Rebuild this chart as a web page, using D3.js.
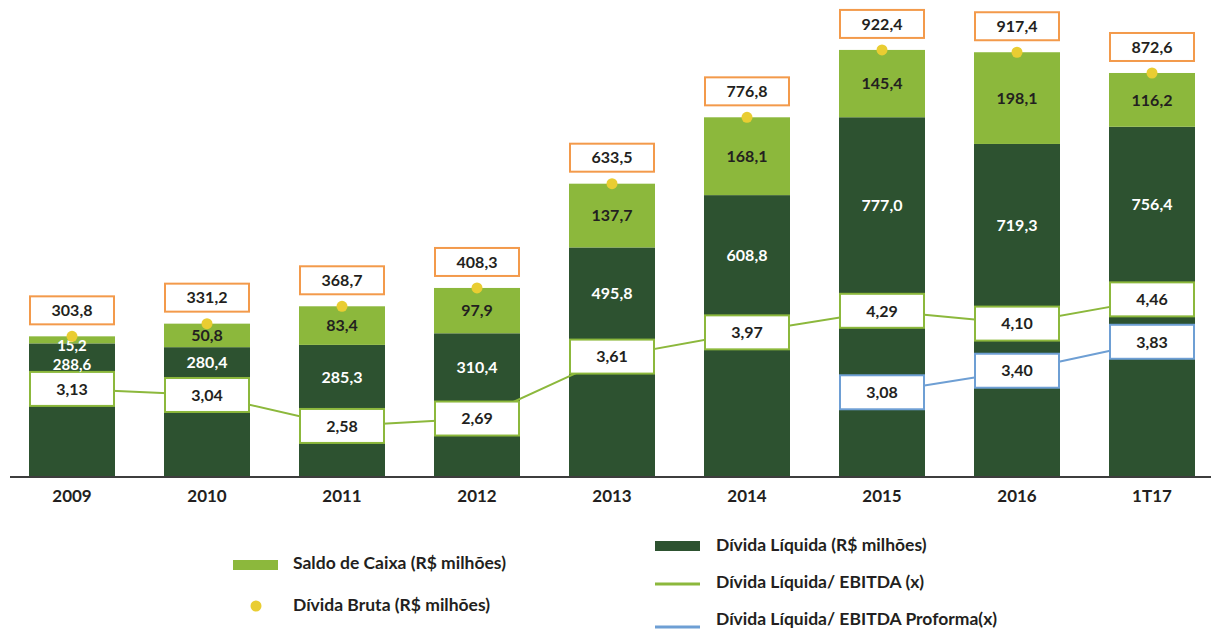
<!DOCTYPE html>
<html lang="pt">
	<head>
		<meta charset="utf-8">
		<title>Endividamento</title>
		<script src="https://cdn.jsdelivr.net/npm/d3@7"></script>
		<style type="text/css">
			body { margin: 0; background: #fff; }
			text { font-family: Lato, "Open Sans", sans-serif; font-weight: 700; }
		</style>
	</head>
	<body>
		<script type="text/javascript">

			//Data
			let periods = ["2009", "2010", "2011", "2012", "2013", "2014", "2015", "2016", "1T17"];
			let dividaLiquida = [288.6, 280.4, 285.3, 310.4, 495.8, 608.8, 777.0, 719.3, 756.4];
			let saldoCaixa = [15.2, 50.8, 83.4, 97.9, 137.7, 168.1, 145.4, 198.1, 116.2];
			let dividaBruta = [303.8, 331.2, 368.7, 408.3, 633.5, 776.8, 922.4, 917.4, 872.6];
			let ratioEbitda = [3.13, 3.04, 2.58, 2.69, 3.61, 3.97, 4.29, 4.10, 4.46];
			let proformaPeriods = ["2015", "2016", "1T17"];
			let ratioProforma = [3.08, 3.40, 3.83];

			let fmt = v => d3.format(".1f")(v).replace(".", ",");
			let fmt2 = v => d3.format(".2f")(v).replace(".", ",");

			//Size
			let w = 1211;
			let h = 630;

			let darkGreen = "#2d5230";
			let lightGreen = "#8cb83c";
			let yellow = "#e9cd32";
			let orange = "#f39a4b";
			let blue = "#6e9fd4";
			let ink = "#231f20";

			let svg = d3.select("body")
						.append("svg")
						.attr("width", w)
						.attr("height", h);

			//Scales
			let x = d3.scaleBand()
					  .domain(periods)
					  .range([29, 1195])
					  .paddingInner(0.363)
					  .paddingOuter(0);

			let y = d3.scaleLinear()
					  .domain([0, 1000])
					  .range([477, 14]);

			let yr = d3.scaleLinear()
					   .domain([2, 5])
					   .range([465, 263]);

			let bw = x.bandwidth();

			let rows = periods.map((p, i) => ({
				p: p,
				liq: dividaLiquida[i],
				caixa: saldoCaixa[i],
				bruta: dividaBruta[i],
				ratio: ratioEbitda[i]
			}));

			let thin = d => y(d.liq) - y(d.liq + d.caixa) < 20;

			//Bars - Dívida Líquida
			svg.selectAll("rect.liq")
			   .data(rows)
			   .enter()
			   .append("rect")
			   .attr("class", "liq")
			   .attr("x", d => x(d.p))
			   .attr("y", d => y(d.liq))
			   .attr("width", bw)
			   .attr("height", d => y(0) - y(d.liq))
			   .attr("fill", darkGreen);

			//Bars - Saldo de Caixa
			svg.selectAll("rect.caixa")
			   .data(rows)
			   .enter()
			   .append("rect")
			   .attr("class", "caixa")
			   .attr("x", d => x(d.p))
			   .attr("y", d => y(d.liq + d.caixa))
			   .attr("width", bw)
			   .attr("height", d => y(d.liq) - y(d.liq + d.caixa))
			   .attr("fill", lightGreen);

			//Axis
			svg.append("line")
			   .attr("x1", 10).attr("x2", w)
			   .attr("y1", y(0)).attr("y2", y(0))
			   .attr("stroke", "#3d3d3d")
			   .attr("stroke-width", 2);

			let axis = svg.append("g")
						  .attr("transform", "translate(0," + y(0) + ")")
						  .call(d3.axisBottom(x).tickSize(0).tickPadding(13));
			axis.select(".domain").remove();
			axis.selectAll("text")
				.attr("fill", ink)
				.style("font-size", "17px")
				.style("font-family", "Lato, sans-serif")
				.style("font-weight", "700");

			//Ratio lines
			let line = d3.line()
						 .x(d => x(d.p) + bw / 2)
						 .y(d => yr(d.v));

			let greenPts = rows.map(d => ({ p: d.p, v: d.ratio }));
			let bluePts = proformaPeriods.map((p, i) => ({ p: p, v: ratioProforma[i] }));

			svg.append("path")
			   .datum(greenPts)
			   .attr("d", line)
			   .attr("fill", "none")
			   .attr("stroke", lightGreen)
			   .attr("stroke-width", 2);

			svg.append("path")
			   .datum(bluePts)
			   .attr("d", line)
			   .attr("fill", "none")
			   .attr("stroke", blue)
			   .attr("stroke-width", 2);

			//Ratio boxes
			function ratioBoxes(pts, color, cls) {
				let g = svg.selectAll("g." + cls)
						   .data(pts)
						   .enter()
						   .append("g")
						   .attr("class", cls)
						   .attr("transform", d => "translate(" + x(d.p) + "," + yr(d.v) + ")");
				g.append("rect")
				 .attr("x", 1).attr("y", -17)
				 .attr("width", bw - 2).attr("height", 34)
				 .attr("fill", "#fff")
				 .attr("stroke", color)
				 .attr("stroke-width", 2);
				g.append("text")
				 .attr("x", bw / 2).attr("y", 0)
				 .attr("dy", "0.36em")
				 .attr("text-anchor", "middle")
				 .attr("fill", ink)
				 .style("font-size", "16px")
				 .text(d => fmt2(d.v));
			}
			ratioBoxes(greenPts, lightGreen, "rg");
			ratioBoxes(bluePts, blue, "rb");

			//Segment labels
			svg.selectAll("text.liq")
			   .data(rows)
			   .enter()
			   .append("text")
			   .attr("class", "liq")
			   .attr("x", d => x(d.p) + bw / 2)
			   .attr("y", d => {
				   //Thin cash segment: stack under its label
				   if (thin(d)) return y(d.liq) + 21;
				   return (y(d.liq) + yr(d.ratio) - 17) / 2;
			   })
			   .attr("dy", "0.36em")
			   .attr("text-anchor", "middle")
			   .attr("fill", "#fff")
			   .style("font-size", d => thin(d) ? "15px" : "16px")
			   .text(d => fmt(d.liq));

			svg.selectAll("text.caixa")
			   .data(rows)
			   .enter()
			   .append("text")
			   .attr("class", "caixa")
			   .attr("x", d => x(d.p) + bw / 2)
			   .attr("y", d => {
				   if (thin(d)) return y(d.liq) + 2;
				   return (y(d.liq) + y(d.liq + d.caixa)) / 2;
			   })
			   .attr("dy", "0.36em")
			   .attr("text-anchor", "middle")
			   .attr("fill", d => thin(d) ? "#fff" : ink)
			   .style("font-size", d => thin(d) ? "15px" : "16px")
			   .text(d => fmt(d.caixa));

			//Dívida Bruta dots
			svg.selectAll("circle.bruta")
			   .data(rows)
			   .enter()
			   .append("circle")
			   .attr("class", "bruta")
			   .attr("cx", d => x(d.p) + bw / 2)
			   .attr("cy", d => y(d.bruta))
			   .attr("r", 5.5)
			   .attr("fill", yellow);

			//Dívida Bruta boxes
			let ob = svg.selectAll("g.ob")
						.data(rows)
						.enter()
						.append("g")
						.attr("class", "ob")
						.attr("transform", d => "translate(" + x(d.p) + "," + (y(d.bruta) - 40) + ")");
			ob.append("rect")
			  .attr("x", 1).attr("y", 0)
			  .attr("width", bw - 2).attr("height", 28)
			  .attr("fill", "#fff")
			  .attr("stroke", orange)
			  .attr("stroke-width", 2);
			ob.append("text")
			  .attr("x", bw / 2).attr("y", 14)
			  .attr("dy", "0.36em")
			  .attr("text-anchor", "middle")
			  .attr("fill", ink)
			  .style("font-size", "16px")
			  .text(d => fmt(d.bruta));

			//Legend
			let legend = svg.append("g").style("font-size", "17.5px");

			legend.append("rect")
				  .attr("x", 233).attr("y", 560).attr("width", 45).attr("height", 10)
				  .attr("fill", lightGreen);
			legend.append("text")
				  .attr("x", 293).attr("y", 563).attr("dy", "0.36em")
				  .attr("fill", ink)
				  .text("Saldo de Caixa (R$ milhões)");

			legend.append("circle")
				  .attr("cx", 256).attr("cy", 606).attr("r", 5.5)
				  .attr("fill", yellow);
			legend.append("text")
				  .attr("x", 293).attr("y", 605).attr("dy", "0.36em")
				  .attr("fill", ink)
				  .text("Dívida Bruta (R$ milhões)");

			legend.append("rect")
				  .attr("x", 655).attr("y", 541).attr("width", 45).attr("height", 10)
				  .attr("fill", darkGreen);
			legend.append("text")
				  .attr("x", 716).attr("y", 545).attr("dy", "0.36em")
				  .attr("fill", ink)
				  .text("Dívida Líquida (R$ milhões)");

			legend.append("line")
				  .attr("x1", 655).attr("x2", 700).attr("y1", 584).attr("y2", 584)
				  .attr("stroke", lightGreen).attr("stroke-width", 3);
			legend.append("text")
				  .attr("x", 716).attr("y", 582).attr("dy", "0.36em")
				  .attr("fill", ink)
				  .text("Dívida Líquida/ EBITDA (x)");

			legend.append("line")
				  .attr("x1", 655).attr("x2", 700).attr("y1", 627).attr("y2", 627)
				  .attr("stroke", blue).attr("stroke-width", 3);
			legend.append("text")
				  .attr("x", 716).attr("y", 619).attr("dy", "0.36em")
				  .attr("fill", ink)
				  .text("Dívida Líquida/ EBITDA Proforma(x)");

		</script>
	</body>
</html>
